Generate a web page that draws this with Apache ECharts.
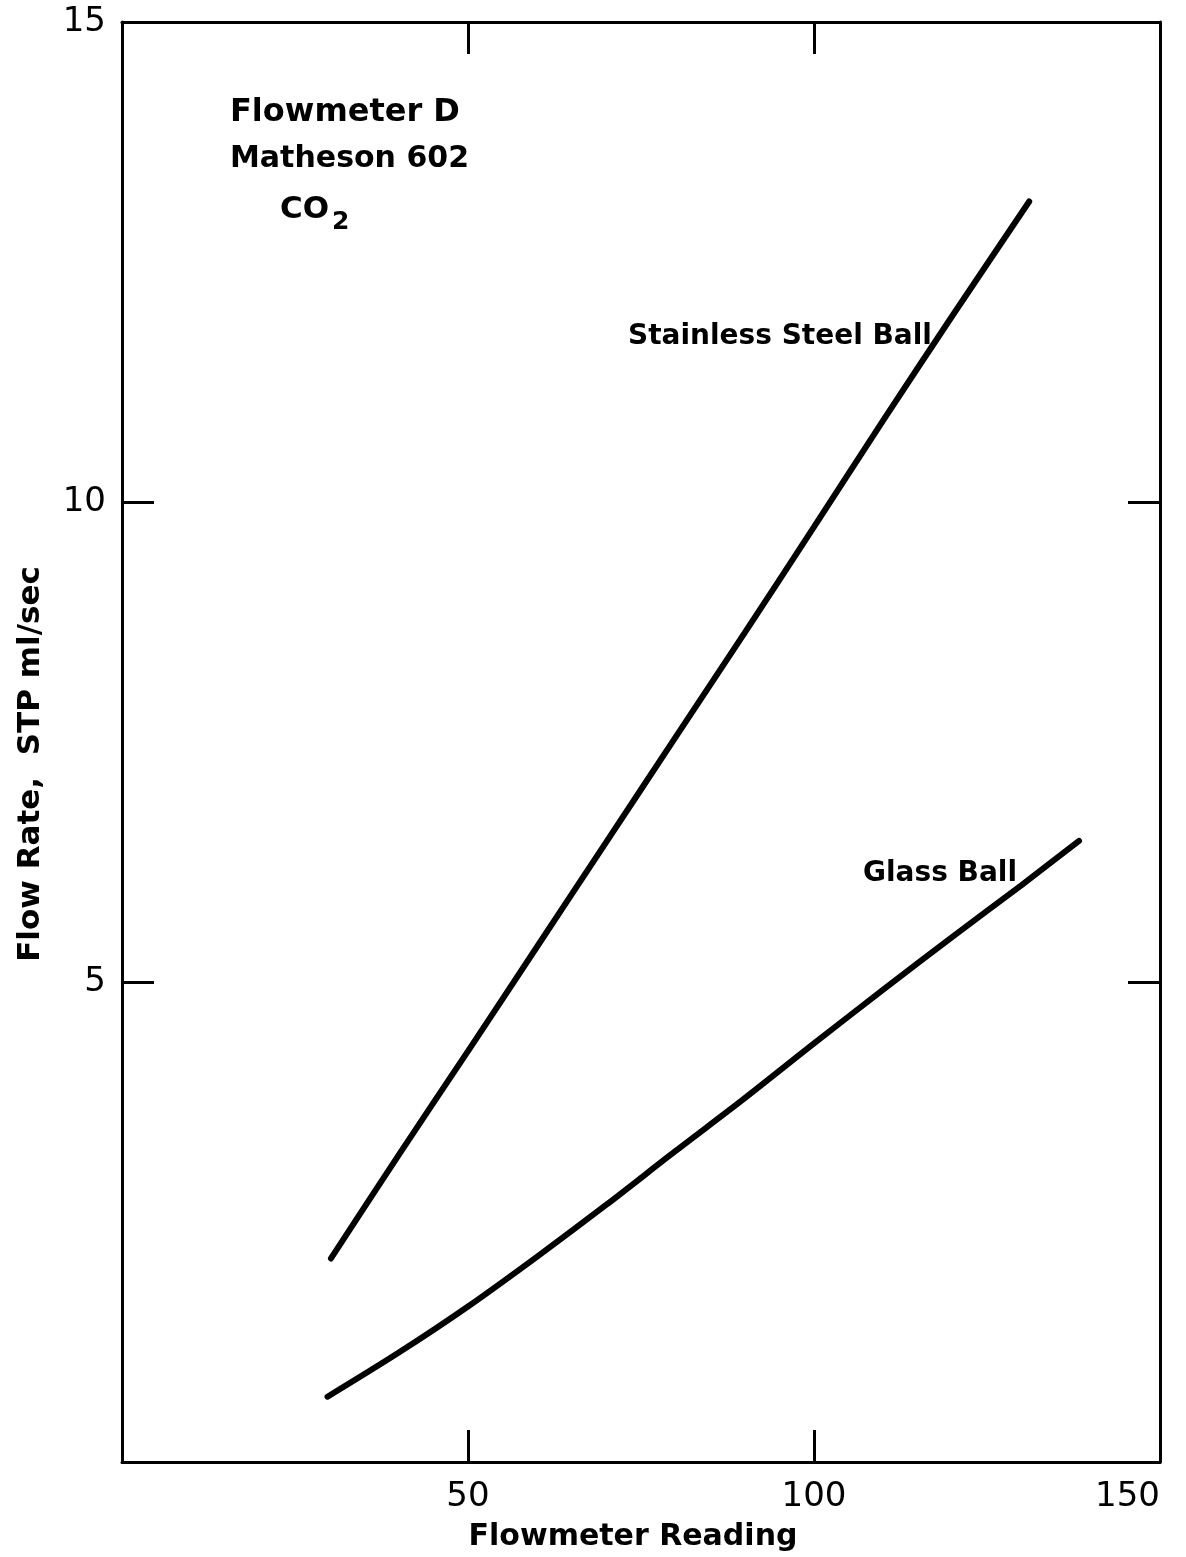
<!DOCTYPE html>
<html>
<head>
<meta charset="utf-8">
<script src="https://cdn.jsdelivr.net/npm/echarts@6/dist/echarts.min.js"></script>
<style>
html,body{margin:0;padding:0;background:#fff;}
#chart{width:1186px;height:1557px;}
</style>
</head>
<body>
<div id="chart"></div>
<script>
// Data
var xTicks = [0, 50, 100, 150];
var yTicks = [0, 5, 10, 15];
var stainlessReading = [30.2, 40, 50, 60, 70, 80, 90, 100, 110, 120, 131.1];
var stainlessFlow    = [2.12, 3.2, 4.28, 5.37, 6.46, 7.55, 8.64, 9.74, 10.85, 11.94, 13.13];
var glassReading = [29.7, 40, 50, 60, 70, 80, 90, 100, 110, 120, 130, 138.3];
var glassFlow    = [0.68, 1.14, 1.62, 2.14, 2.68, 3.24, 3.79, 4.36, 4.92, 5.47, 6.01, 6.47];

var FONT = 'DejaVu Sans';
function pairs(xs, ys){ return xs.map(function(x,i){ return [x, ys[i]]; }); }

var chart = echarts.init(document.getElementById('chart'), null, {renderer:'canvas'});
var axisLine = {show:true, onZero:false, lineStyle:{color:'#000', width:3}};
var tick = {show:true, inside:true, length:32, lineStyle:{color:'#000', width:3}};

chart.setOption({
  backgroundColor:'#fff',
  animation:false,
  grid:{left:122, right:26, top:22, bottom:90, containLabel:false},
  xAxis:[{
    type:'value', min:xTicks[0], max:xTicks[xTicks.length-1], interval:50, position:'bottom',
    axisLine:axisLine, axisTick:tick, splitLine:{show:false},
    axisLabel:{show:true, margin:18, color:'#000', fontFamily:FONT, fontSize:34, alignMaxLabel:'right',
      formatter:function(v){ return v===0 ? '' : String(v); }},
    name:'Flowmeter Reading', nameLocation:'middle', nameGap:60,
    nameTextStyle:{color:'#000', fontFamily:FONT, fontSize:30, fontWeight:'bold', padding:[0,16,0,0]}
  },{
    type:'value', min:xTicks[0], max:xTicks[xTicks.length-1], interval:50, position:'top',
    axisLine:axisLine, axisTick:tick, splitLine:{show:false}, axisLabel:{show:false}
  }],
  yAxis:[{
    type:'value', min:yTicks[0], max:yTicks[yTicks.length-1], interval:5, position:'left',
    axisLine:axisLine, axisTick:tick, splitLine:{show:false},
    axisLabel:{show:true, margin:16, color:'#000', fontFamily:FONT, fontSize:34,
      formatter:function(v){ return v===0 ? '' : String(v); }},
    name:'Flow Rate,  STP ml/sec', nameLocation:'middle', nameGap:76, nameRotate:90,
    nameTextStyle:{color:'#000', fontFamily:FONT, fontSize:31, fontWeight:'bold', padding:[0,44,0,0]}
  },{
    type:'value', min:yTicks[0], max:yTicks[yTicks.length-1], interval:5, position:'right',
    axisLine:axisLine, axisTick:tick, splitLine:{show:false}, axisLabel:{show:false}
  }],
  series:[{
    name:'Stainless Steel Ball', type:'line', data:pairs(stainlessReading, stainlessFlow),
    smooth:0.3, symbol:'none', lineStyle:{color:'#000', width:6, cap:'round'}
  },{
    name:'Glass Ball', type:'line', data:pairs(glassReading, glassFlow),
    smooth:0.3, symbol:'none', lineStyle:{color:'#000', width:6, cap:'round'}
  }],
  graphic:[
    {type:'text', left:230, top:97, style:{text:'Flowmeter D', font:'bold 32px "DejaVu Sans"', fill:'#000'}},
    {type:'text', left:230, top:144, style:{text:'Matheson 602', font:'bold 30px "DejaVu Sans"', fill:'#000'}},
    {type:'text', left:280, top:194, style:{text:'{a|CO}{b|2}', fill:'#000',
      rich:{a:{fontFamily:FONT, fontWeight:'bold', fontSize:31, verticalAlign:'top'},
            b:{fontFamily:FONT, fontWeight:'bold', fontSize:25, padding:[16,0,0,3]}}}},
    {type:'text', left:628, top:323, style:{text:'Stainless Steel Ball', font:'bold 28px "DejaVu Sans"', fill:'#000'}},
    {type:'text', left:863, top:860, style:{text:'Glass Ball', font:'bold 28px "DejaVu Sans"', fill:'#000'}}
  ]
});
</script>
</body>
</html>
